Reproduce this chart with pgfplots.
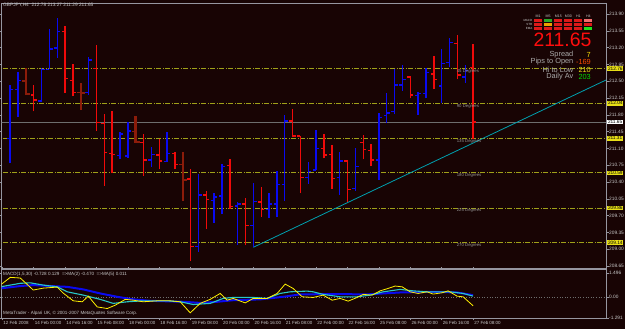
\documentclass[border=0pt]{standalone}
\usepackage{fontspec}
\setmainfont{Liberation Sans}
\usepackage{pgfplots}
\usepackage{pgfplotstable}
\pgfplotsset{compat=1.18}
\definecolor{bg}{RGB}{24,4,4}
\definecolor{barblue}{RGB}{10,10,240}
\definecolor{barred}{RGB}{240,10,10}
\definecolor{bardark}{RGB}{140,28,10}
\definecolor{gann}{RGB}{160,160,25}
\definecolor{axisgray}{RGB}{150,150,160}
\definecolor{lbl}{RGB}{200,200,200}
\definecolor{trend}{RGB}{0,160,175}
\definecolor{pricegray}{RGB}{110,110,110}
\definecolor{macdcyan}{RGB}{40,200,200}
\definecolor{boxred}{RGB}{220,25,25}
\definecolor{boxgreen}{RGB}{40,170,40}
\definecolor{boxlgreen}{RGB}{30,225,30}
\definecolor{boxorange}{RGB}{235,160,0}
\definecolor{boxpink}{RGB}{240,110,110}

\pgfplotstableread{
i o h l c
1 211.31 212.42 210.79 212.32
2 212.33 212.70 211.76 212.51
5 212.09 212.77 212.07 212.75
6 212.75 213.58 212.75 213.17
7 213.19 213.82 212.98 213.53
11 212.27 213.01 212.21 212.94
15 210.95 211.45 210.88 211.40
16 210.94 211.64 210.91 211.46
19 210.86 211.12 210.71 210.98
21 210.82 211.45 210.82 211.00
25 209.05 210.56 208.95 210.13
27 210.01 210.17 209.55 210.09
28 210.11 210.78 209.73 210.73
30 209.90 209.99 209.09 209.94
32 209.50 210.37 209.04 209.99
34 209.82 210.17 209.64 209.94
35 209.94 210.62 209.67 210.35
36 210.35 211.80 210.01 211.67
39 210.49 210.82 210.36 210.62
40 210.65 211.48 210.64 211.10
43 210.49 211.03 210.13 210.84
45 210.27 211.10 210.22 210.73
48 210.86 211.83 210.44 211.75
49 211.78 212.25 211.62 211.84
50 211.87 212.75 211.81 212.42
51 212.42 212.84 212.30 212.54
53 212.20 212.28 211.80 212.25
54 212.25 212.77 212.14 212.68
56 212.40 213.17 212.04 212.87
57 212.89 213.39 212.79 213.30
59 212.59 212.84 212.47 212.73
}\bluebars

\pgfplotstableread{
i o h l c
4 212.21 212.42 211.87 212.11
8 213.53 213.64 212.26 212.55
9 212.51 212.86 212.19 212.27
12 212.77 213.25 211.47 211.64
13 211.62 211.82 210.32 211.02
14 211.00 211.87 210.59 210.98
18 211.22 211.40 210.53 210.86
20 210.96 211.30 210.67 210.84
22 211.00 211.03 210.67 210.77
24 210.46 210.67 208.75 209.05
26 210.13 210.21 209.42 210.03
29 210.75 210.88 209.83 209.89
31 209.94 210.07 209.08 209.50
33 209.98 210.30 209.68 209.82
37 211.67 211.92 211.33 211.36
38 211.36 211.36 210.17 210.49
41 211.10 211.40 210.89 210.96
42 210.98 211.17 210.25 210.48
44 210.84 210.86 209.99 210.25
46 211.23 211.38 210.87 211.07
47 211.05 211.19 210.73 210.86
52 212.59 212.61 212.14 212.21
55 212.65 213.03 212.33 212.53
58 213.28 213.46 212.54 212.63
60 212.78 213.27 211.29 211.65
}\redbars

\pgfplotstableread{
i o h l c
3 212.50 212.77 212.21 212.23
10 212.27 212.47 211.90 212.25
17 211.45 211.78 211.21 211.23
23 210.77 211.03 210.01 210.44
}\darkbars

\begin{document}
\begin{tikzpicture}
\fill[bg] (0,0) rectangle (625bp,329bp);
\useasboundingbox (0,0) rectangle (625bp,329bp);

\begin{axis}[
  at={(1.5bp,61bp)}, anchor=south west,
  scale only axis, width=604.5bp, height=264.5bp,
  xmin=-0.1, xmax=76.94, ymin=208.608, ymax=214.119,
  clip mode=individual,
  axis line style={draw=axisgray, line width=0.6bp},
  xtick=\empty,
  ytick={208.65,209.00,209.35,209.70,210.05,210.40,210.75,211.10,211.45,211.80,212.15,212.50,212.85,213.20,213.55,213.90},
  yticklabel pos=right,
  tick align=outside, major tick length=2.5bp,
  tick style={draw=axisgray, line width=0.5bp},
  yticklabel style={font=\fontsize{4.8}{5}\selectfont, text=lbl, inner sep=0.5bp},
  /pgf/number format/.cd, fixed, fixed zerofill, precision=2, assume math mode=true,
]
% Gann levels
\foreach \lv in {212.76,212.04,211.31,210.59,209.86,209.14}{
  \edef\temp{\noexpand\addplot[gann, line width=0.8bp, dash pattern=on 5bp off 1.5bp on 1bp off 1.5bp, forget plot] coordinates {(-1,\lv) (80,\lv)};}
  \temp
}
\addplot[pricegray, line width=0.7bp] coordinates {(-1,211.65) (80,211.65)};
% trend line
\addplot[trend, line width=0.8bp] coordinates {(32,209.04) (78,212.607)};
% bars
\addplot[barblue, line width=1.4bp, mark=none, quiver={u=0,v=\thisrow{h}-\thisrow{l}}] table[x=i,y=l] {\bluebars};
\addplot[barblue, line width=1.3bp, mark=none, quiver={u=-0.4,v=0}] table[x=i,y=o] {\bluebars};
\addplot[barblue, line width=1.3bp, mark=none, quiver={u=0.4,v=0}] table[x=i,y=c] {\bluebars};
\addplot[barred, line width=1.4bp, mark=none, quiver={u=0,v=\thisrow{h}-\thisrow{l}}] table[x=i,y=l] {\redbars};
\addplot[barred, line width=1.3bp, mark=none, quiver={u=-0.4,v=0}] table[x=i,y=o] {\redbars};
\addplot[barred, line width=1.3bp, mark=none, quiver={u=0.4,v=0}] table[x=i,y=c] {\redbars};
\addplot[bardark, line width=2.4bp, mark=none, quiver={u=0,v=\thisrow{h}-\thisrow{l}}] table[x=i,y=l] {\darkbars};
\addplot[bardark, line width=1.4bp, mark=none, quiver={u=-0.5,v=0}] table[x=i,y=o] {\darkbars};
\addplot[bardark, line width=1.4bp, mark=none, quiver={u=0.5,v=0}] table[x=i,y=c] {\darkbars};
% degree labels
\foreach \lv/\tx in {212.76/45,212.04/90,211.31/135,210.59/180,209.86/225,209.14/270}{
  \edef\temp{\noexpand\node[anchor=north west, inner sep=0.8bp, font=\noexpand\fontsize{4.3}{4.5}\noexpand\selectfont, text=lbl!75!black] at (axis cs:57.8,\lv) {\tx\space Degrees};}
  \temp
}
% right axis boxes
\foreach \lv in {212.76,212.04,211.31,210.59,209.86,209.14}{
  \edef\temp{\noexpand\node[anchor=west, fill=yellow!90!black, text=black, inner xsep=0.8bp, inner ysep=0.6bp, font=\noexpand\fontsize{4.8}{5}\noexpand\selectfont] at (axis cs:76.94,\lv) [xshift=1bp] {\lv};}
  \temp
}
\node[anchor=west, fill=white, text=black, inner xsep=0.8bp, inner ysep=0.6bp, font=\fontsize{4.8}{5}\selectfont] at (axis cs:76.94,211.65) [xshift=1bp] {211.65};
\end{axis}

\begin{axis}[
  at={(1.5bp,11bp)}, anchor=south west,
  scale only axis, width=604.5bp, height=48.5bp,
  xmin=-0.1, xmax=76.94, ymin=-1.30, ymax=1.72,
  axis line style={draw=axisgray, line width=0.6bp},
  xtick={0,4,...,60},
  xticklabels={12 Feb 2008,14 Feb 00:00,14 Feb 16:00,15 Feb 08:00,18 Feb 00:00,18 Feb 16:00,19 Feb 08:00,20 Feb 00:00,20 Feb 16:00,21 Feb 08:00,22 Feb 00:00,22 Feb 16:00,25 Feb 08:00,26 Feb 00:00,26 Feb 16:00,27 Feb 08:00},
  xticklabel style={font=\fontsize{4.5}{5}\selectfont, text=lbl, anchor=north west, inner sep=0.5bp, xshift=0.5bp},
  ytick={-1.291,0,1.496},
  yticklabels={-1.291,0.00,1.496},
  yticklabel pos=right,
  tick align=outside, major tick length=2.5bp,
  tick style={draw=axisgray, line width=0.5bp},
  yticklabel style={font=\fontsize{4.8}{5}\selectfont, text=lbl, inner sep=0.5bp},
]
\addplot[pricegray, dotted, line width=0.6bp] coordinates {(-1,0) (80,0)};
\addplot[barblue, line width=2bp, mark=none] coordinates {
(-0.25,0.54) (2.29,0.69) (3.95,0.75) (6.11,0.69) (8.28,0.64) (10.32,0.48) (12.48,0.23) (14.65,0.02) (16.69,-0.14) (18.85,-0.23) (23.06,-0.29) (25.22,-0.36) (27.39,-0.29) (29.43,-0.19) (32.87,-0.14) (35.8,0.02) (37.96,0.17) (42.17,0.19) (46.5,0.17) (50.7,0.29) (54.9,0.33) (57.96,0.29) (60.0,0.125)};
\addplot[macdcyan, line width=1.1bp, mark=none] coordinates {
(-0.25,0.64) (2.29,0.86) (3.57,0.89) (5.22,0.75) (7.0,0.64) (8.28,0.33) (10.32,0.125) (12.48,-0.14) (14.14,-0.39) (15.92,-0.29) (17.96,-0.23) (21.02,-0.23) (22.68,-0.29) (24.33,-0.46) (26.5,-0.39) (28.15,-0.08) (29.43,-0.02) (31.97,-0.02) (33.76,-0.08) (35.41,0.23) (36.69,0.33) (38.85,0.375) (39.62,0.33) (40.89,0.17) (43.06,0.02) (45.22,0.02) (46.88,0.125) (48.54,0.33) (50.7,0.48) (52.36,0.39) (54.14,0.33) (57.07,0.33) (58.73,0.23) (60.0,0.06)};
\addplot[yellow, line width=0.8bp, mark=none] coordinates {
(-0.25,0.75) (1.02,1.23) (2.29,1.19) (3.95,0.44) (5.22,0.56) (7.0,0.625) (7.77,0.25) (9.04,-0.23) (10.19,-0.29) (10.96,0.06) (12.1,-0.61) (13.38,-0.71) (14.4,-0.5) (15.67,-0.14) (16.69,-0.19) (17.96,-0.29) (19.75,-0.23) (21.4,-0.23) (22.68,-0.29) (23.95,-0.98) (25.22,-0.39) (26.5,-0.14) (27.77,0.23) (28.66,-0.19) (29.43,-0.08) (30.96,-0.36) (31.97,-0.08) (33.76,-0.08) (35.03,0.23) (36.05,0.81) (37.07,0.54) (38.22,0.02) (39.62,-0.02) (40.89,0.125) (42.04,-0.19) (43.06,-0.08) (44.08,-0.25) (45.22,-0.02) (45.99,0.17) (47.13,0.125) (48.15,0.39) (49.17,0.54) (50.06,0.69) (50.96,0.64) (51.97,0.33) (52.99,0.23) (54.14,0.33) (54.9,0.19) (56.05,0.27) (56.82,0.39) (57.96,0.06) (58.73,0.02) (60.0,-0.54)};
\end{axis}

% header texts
\node[anchor=west, inner sep=0pt, text=lbl, font=\fontsize{4.8}{5}\selectfont] at (3bp,323.5bp) {GBPJPY,H4\ \ 212.78 213.27 211.29 211.65};
\node[anchor=west, inner sep=0pt, text=lbl, font=\fontsize{4.6}{5}\selectfont] at (3bp,55bp) {MACD(1,5,30) -0.728 0.129 \ =>MA(2) -0.470 \ =>MA(5) 0.011};
\node[anchor=west, inner sep=0pt, text=lbl, font=\fontsize{4.6}{5}\selectfont] at (3bp,16bp) {MetaTrader - Alpari UK, \textcopyright{} 2001-2007 MetaQuotes Software Corp.};

% info panel
\foreach \cx/\t in {538/M1,548/M5,558.3/M15,568.3/M30,578.3/H1,588.3/H4}{
  \node[text=lbl, font=\fontsize{3.6}{4}\selectfont, inner sep=0pt] at (\cx bp,313bp) {\t};
}
\foreach \ry/\t in {308.5/MACD,304.5/STR,300.5/EMA}{
  \node[anchor=east, text=lbl, font=\fontsize{3}{3.5}\selectfont, inner sep=0pt] at (532.5bp,\ry bp) {\t};
}
\foreach \cx in {538,548,558.3,568.3,578.3,588.3}{
  \foreach \ry in {308.5,304.5,300.5}{
    \fill[boxred] (\cx bp-3.85bp,\ry bp-1.4bp) rectangle (\cx bp+3.85bp,\ry bp+1.4bp);
  }
}
\fill[boxgreen] (548bp-3.85bp,308.5bp-1.4bp) rectangle (548bp+3.85bp,308.5bp+1.4bp);
\fill[boxorange] (548bp-3.85bp,304.5bp-1.4bp) rectangle (548bp+3.85bp,304.5bp+1.4bp);
\fill[boxpink] (588.3bp-3.85bp,308.5bp-1.4bp) rectangle (588.3bp+3.85bp,308.5bp+1.4bp);
\fill[boxlgreen] (588.3bp-3.85bp,300.5bp-1.4bp) rectangle (588.3bp+3.85bp,300.5bp+1.4bp);

\node[text=red!95!white, font=\fontsize{19.5}{20}\selectfont, inner sep=0pt] at (562.5bp,289bp) {211.65};
\foreach \ry/\t in {274/Spread,267/Pips to Open,259.5/Hi to Low,252/Daily Av}{
  \node[anchor=east, text=lbl!85!black, font=\fontsize{7.4}{8}\selectfont, inner sep=0pt] at (573.5bp,\ry bp) {\t};
}
\node[anchor=east, text=yellow!85!orange, font=\fontsize{7.4}{8}\selectfont, inner sep=0pt] at (591bp,274bp) {7};
\node[anchor=east, text=orange!60!red, font=\fontsize{7.4}{8}\selectfont, inner sep=0pt] at (591bp,267bp) {-169};
\node[anchor=east, text=yellow!90!black, font=\fontsize{7.4}{8}\selectfont, inner sep=0pt] at (591bp,259.5bp) {210};
\node[anchor=east, text=green!85!black, font=\fontsize{7.4}{8}\selectfont, inner sep=0pt] at (591bp,252bp) {203};
\end{tikzpicture}
\end{document}
